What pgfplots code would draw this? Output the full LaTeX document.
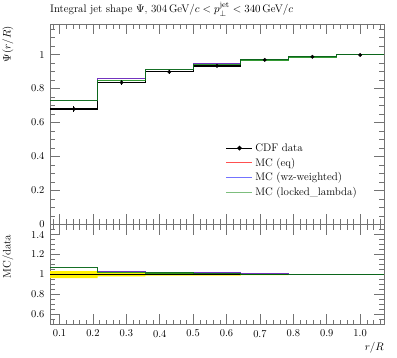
\documentclass[border=0pt]{standalone}
\usepackage{pgfplots}
\pgfplotsset{compat=1.18}
\definecolor{mcred}{rgb}{1,0,0}
\definecolor{mcblue}{rgb}{0,0,1}
\definecolor{mcgreen}{rgb}{0,0.5,0}
\definecolor{legred}{HTML}{FF5050}
\definecolor{legblue}{HTML}{7373FF}
\definecolor{leggreen}{HTML}{7DBE7D}
\begin{document}
\begin{tikzpicture}
\pgfplotsset{
  rivet/.style={
    scale only axis, width=334bp,
    xmin=0.0714286, xmax=1.0714286,
    axis line style={black!55, line width=0.6pt},
    every tick/.style={black!55, line width=0.5pt},
    major tick length=10bp, minor tick length=5bp,
    tick align=inside,
    xtick={0.1,0.2,0.3,0.4,0.5,0.6,0.7,0.8,0.9,1.0},
    minor xtick={0.08,0.1,...,1.07},
    tick label style={font=\fontsize{10.5}{12}\selectfont},
    clip=true,
  },
  eq/.style={mcred, opacity=0.55, line width=1.1pt, const plot mark left},
  wz/.style={mcblue, opacity=0.55, line width=1.1pt, const plot mark left},
  ll/.style={mcgreen, opacity=0.8, line width=1.1pt, const plot mark left},
  dat/.style={black, line width=1.1pt, const plot mark left},
}
\begin{axis}[rivet, name=main, height=200.5bp, ymin=0, ymax=1.18,
  xticklabels={},
  ytick={0,0.2,0.4,0.6,0.8,1}, yticklabels={0,0.2,0.4,0.6,0.8,1},
  minor ytick={0,0.05,...,1.16},
  yticklabel style={xshift=-2bp},
  legend style={draw=none, fill=none, at={(rel axis cs:0.525,0.415)}, anchor=north west,
    font=\fontsize{11}{13}\selectfont, row sep=1.2bp, inner sep=0pt},
  legend cell align=left,
  legend image code/.code={\draw[mark repeat=2, mark phase=2, #1] plot coordinates {(0bp,0bp)(13bp,0bp)(26bp,0bp)};},
]
\addplot[dat, forget plot] coordinates {(0.0714286,0.680)(0.2142857,0.836)(0.3571429,0.898)(0.5,0.933)(0.6428571,0.969)(0.7857143,0.987)(0.9285714,0.998)(1.0714286,0.998)};
\addplot[eq, forget plot] coordinates {(0.0714286,0.729)(0.2142857,0.857)(0.3571429,0.913)(0.5,0.946)(0.6428571,0.971)(0.7857143,0.991)(0.9285714,0.999)(1.0714286,0.999)};
\addplot[wz, forget plot] coordinates {(0.0714286,0.729)(0.2142857,0.857)(0.3571429,0.913)(0.5,0.946)(0.6428571,0.971)(0.7857143,0.991)(0.9285714,0.999)(1.0714286,0.999)};
\addplot[ll, forget plot] coordinates {(0.0714286,0.728)(0.2142857,0.850)(0.3571429,0.910)(0.5,0.944)(0.6428571,0.968)(0.7857143,0.986)(0.9285714,0.999)(1.0714286,0.999)};
\addplot[black, only marks, mark=*, mark size=1.7bp, forget plot,
  error bars/.cd, y dir=both, y explicit, error bar style={black, line width=0.8pt}, error mark=none]
  coordinates {(0.142857,0.680)+-(0,0.020)(0.285714,0.836)+-(0,0.013)(0.428571,0.898)+-(0,0.010)(0.571429,0.933)+-(0,0.008)(0.714286,0.969)+-(0,0.005)(0.857143,0.987)+-(0,0.004)(1.0,0.998)+-(0,0.002)};
\addlegendimage{black, line width=1.1pt, mark=*, mark size=1.7bp, mark options={solid}}
\addlegendentry{CDF data}
\addlegendimage{draw=legred, line width=1.4pt}
\addlegendentry{MC (eq)}
\addlegendimage{draw=legblue, line width=1.4pt}
\addlegendentry{MC (wz-weighted)}
\addlegendimage{draw=leggreen, line width=1.8pt}
\addlegendentry{MC (locked\_lambda)}
\end{axis}
\begin{axis}[rivet, at={(main.south west)}, anchor=north west, height=100bp,
  ymin=0.5, ymax=1.5,
  ytick={0.6,0.8,1,1.2,1.4}, yticklabels={0.6,0.8,1,1.2,1.4},
  minor ytick={0.5,0.55,...,1.51},
  yticklabel style={xshift=-2bp},
  xticklabels={0.1,0.2,0.3,0.4,0.5,0.6,0.7,0.8,0.9,1.0},
  xticklabel style={yshift=-2bp},
]
\addplot[fill=yellow, draw=none] coordinates {(0.0714286,1.035)(0.2142857,1.035)(0.2142857,1.018)(0.3571429,1.018)(0.3571429,1.012)(0.5,1.012)(0.5,1.010)(0.6428571,1.010)(0.6428571,1.006)(0.7857143,1.006)(0.7857143,1.003)(0.9285714,1.003)(0.9285714,1.001)(1.0714286,1.001)(1.0714286,0.999)(0.9285714,0.999)(0.9285714,0.997)(0.7857143,0.997)(0.7857143,0.994)(0.6428571,0.994)(0.6428571,0.990)(0.5,0.990)(0.5,0.988)(0.3571429,0.988)(0.3571429,0.982)(0.2142857,0.982)(0.2142857,0.965)(0.0714286,0.965)} -- cycle;
\addplot[dat, line width=0.8pt] coordinates {(0.0714286,1.0)(1.0714286,1.0)};
\addplot[eq] coordinates {(0.0714286,1.074)(0.2142857,1.032)(0.3571429,1.016)(0.5,1.015)(0.6428571,1.008)(0.7857143,1.004)(0.9285714,1.001)(1.0714286,1.001)};
\addplot[wz] coordinates {(0.0714286,1.074)(0.2142857,1.032)(0.3571429,1.016)(0.5,1.015)(0.6428571,1.008)(0.7857143,1.004)(0.9285714,1.001)(1.0714286,1.001)};
\addplot[ll] coordinates {(0.0714286,1.073)(0.2142857,1.024)(0.3571429,1.015)(0.5,1.014)(0.6428571,1.000)(0.7857143,0.999)(0.9285714,1.000)(1.0714286,1.000)};
\end{axis}
\node[anchor=base west, inner sep=0pt, font=\fontsize{11}{13}\selectfont] at ([yshift=11bp]main.north west)
  {Integral jet shape $\Psi$, 304\,GeV$/c < p_\perp^{\mathrm{jet}} < 340$\,GeV$/c$};
\node[rotate=90, anchor=east, inner sep=0pt, font=\fontsize{11}{13}\selectfont] at ([xshift=-42bp,yshift=-2bp]main.north west) {$\Psi(r/R)$};
\node[rotate=90, anchor=east, inner sep=0pt, font=\fontsize{11}{13}\selectfont] at ([xshift=-42bp,yshift=-10bp]main.south west) {MC/data};
\node[anchor=base east, inner sep=0pt, font=\fontsize{11}{13}\selectfont] at ([yshift=-125.5bp]main.south east) {$r/R$};
\pgfresetboundingbox
\path[use as bounding box] (-50bp,-133.5bp) rectangle (347bp,224.5bp);
\end{tikzpicture}
\end{document}
